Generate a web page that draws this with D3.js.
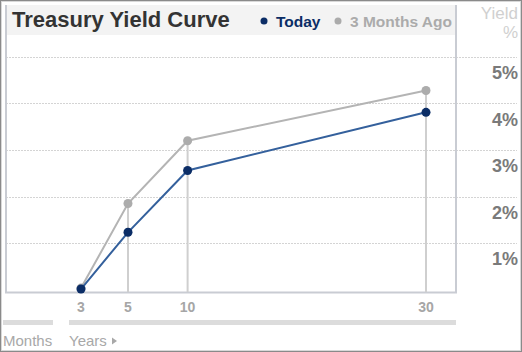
<!DOCTYPE html>
<html>
<head>
<meta charset="utf-8">
<script src="https://cdn.jsdelivr.net/npm/d3@7"></script>
<style>
  body { margin: 0; background: #fff; }
  svg { display: block; font-family: "Liberation Sans", Arial, sans-serif; }
</style>
</head>
<body>
<div class="chart"></div>
<script>
// maturities in years (3 months = 0.25)
var maturities = [0.25, 5, 10, 30];
var tickLabels = ["3", "5", "10", "30"];
var today = [0.01, 1.23, 2.56, 3.81];
var monthsAgo = [0.03, 1.85, 3.20, 4.28];
var yTicks = [1, 2, 3, 4, 5];

var width = 522, height = 352;
var svg = d3.select(".chart").append("svg")
    .attr("width", width)
    .attr("height", height);

var x = d3.scaleLinear().domain([0.25, 5, 30]).range([81, 128, 426]);
var y = d3.scaleLinear().domain([0, 5]).range([289.5, 57]);

// outer frame
svg.append("rect")
    .attr("x", 0.5).attr("y", 0.5)
    .attr("width", width - 1).attr("height", height - 1)
    .style("fill", "#fff").style("stroke", "#8a8a8a");
svg.append("rect")
    .attr("x", 1.5).attr("y", 1.5)
    .attr("width", width - 3).attr("height", height - 3)
    .style("fill", "none").style("stroke", "#d8d8d8");

// title bar
svg.append("rect")
    .attr("x", 7).attr("y", 5).attr("width", 448).attr("height", 30)
    .style("fill", "#f3f3f3");

// grid lines
svg.selectAll("line.grid").data(yTicks).enter().append("line")
    .attr("class", "grid")
    .attr("x1", 6).attr("x2", 517)
    .attr("y1", function(d){ return Math.round(y(d)) + 0.5; })
    .attr("y2", function(d){ return Math.round(y(d)) + 0.5; })
    .style("stroke", "#d4d4d4")
    .style("stroke-dasharray", "2,1");

// plot border (left, right, bottom)
svg.append("path")
    .attr("d", "M6,5V292.5H456V5")
    .style("fill", "none")
    .style("stroke", "#c9ccd3")
    .style("stroke-width", 2);

// vertical drop lines
var idx = d3.range(maturities.length).slice(1);
svg.selectAll("line.drop").data(idx).enter().append("line")
    .attr("class", "drop")
    .attr("x1", function(i){ return x(maturities[i]); })
    .attr("x2", function(i){ return x(maturities[i]); })
    .attr("y1", function(i){ return y(Math.max(today[i], monthsAgo[i])); })
    .attr("y2", 292)
    .style("stroke", "#cfcfcf")
    .style("stroke-width", 2);

function drawSeries(vals, lineColor, dotColor, w){
    var line = d3.line()
        .x(function(d, i){ return x(maturities[i]); })
        .y(function(d){ return y(d); });
    svg.append("path")
        .datum(vals)
        .attr("d", line)
        .style("fill", "none")
        .style("stroke", lineColor)
        .style("stroke-width", w);
    svg.append("g").selectAll("circle").data(vals).enter().append("circle")
        .attr("cx", function(d, i){ return x(maturities[i]); })
        .attr("cy", function(d){ return y(d); })
        .attr("r", 4.5)
        .style("fill", dotColor);
}
drawSeries(monthsAgo, "#b4b4b4", "#acacac", 2);
drawSeries(today, "#34609c", "#0b2d66", 2);

// x tick labels
svg.selectAll("text.xt").data(tickLabels).enter().append("text")
    .attr("class", "xt")
    .attr("x", function(d, i){ return x(maturities[i]); })
    .attr("y", 312)
    .attr("text-anchor", "middle")
    .style("font-size", "14px")
    .style("font-weight", "bold")
    .style("fill", "#a6a6a6")
    .text(function(d){ return d; });

// months / years bars
svg.append("rect").attr("x", 3).attr("y", 320).attr("width", 50).attr("height", 5).style("fill", "#dcdcdc");
svg.append("rect").attr("x", 69).attr("y", 320).attr("width", 387).attr("height", 5).style("fill", "#dcdcdc");
svg.append("text").attr("x", 3).attr("y", 346)
    .style("font-size", "15px").style("fill", "#a8a8a8").text("Months");
svg.append("text").attr("x", 69).attr("y", 346)
    .style("font-size", "15px").style("fill", "#a8a8a8").text("Years");
svg.append("path").attr("d", "M112,337.5l5,3.5l-5,3.5z").style("fill", "#a8a8a8");

// y tick labels
svg.selectAll("text.yt").data(yTicks).enter().append("text")
    .attr("class", "yt")
    .attr("x", 518)
    .attr("y", function(d){ return y(d) + 22; })
    .attr("text-anchor", "end")
    .style("font-size", "18px")
    .style("font-weight", "bold")
    .style("fill", "#7a7a7a")
    .text(function(d){ return d + "%"; });

svg.append("text").attr("x", 518).attr("y", 19).attr("text-anchor", "end")
    .style("font-size", "17px").style("fill", "#d0d0d0").text("Yield");
svg.append("text").attr("x", 518).attr("y", 38).attr("text-anchor", "end")
    .style("font-size", "17px").style("fill", "#d0d0d0").text("%");

// title
svg.append("text").attr("x", 12).attr("y", 27)
    .style("font-size", "22px").style("font-weight", "bold").style("fill", "#333")
    .text("Treasury Yield Curve");

// legend
var legend = [
    {name: "Today", color: "#0b2d66", x: 264},
    {name: "3 Months Ago", color: "#ababab", x: 338}
];
var lg = svg.selectAll("g.lg").data(legend).enter().append("g").attr("class", "lg");
lg.append("circle")
    .attr("cx", function(d){ return d.x; }).attr("cy", 21).attr("r", 3.5)
    .style("fill", function(d){ return d.color; });
lg.append("text")
    .attr("x", function(d){ return d.x + 12; }).attr("y", 27)
    .style("font-size", "15.5px").style("font-weight", "bold")
    .style("fill", function(d){ return d.color; })
    .text(function(d){ return d.name; });
</script>
</body>
</html>
